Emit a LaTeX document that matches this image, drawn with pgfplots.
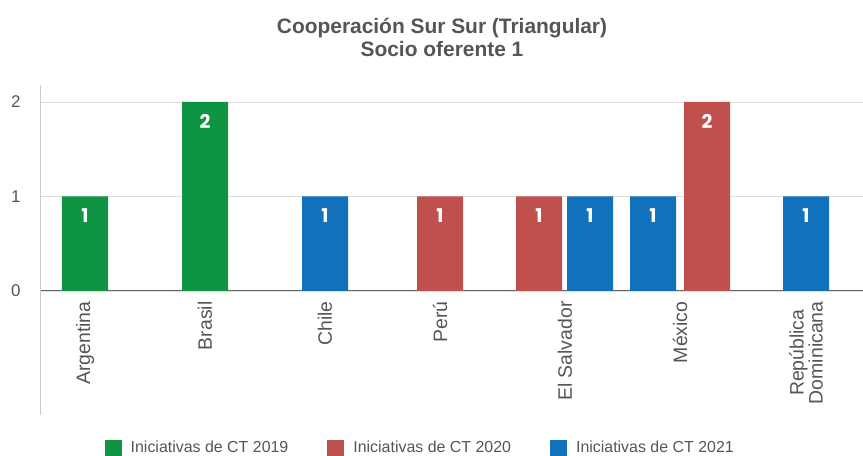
\documentclass[border=0pt]{standalone}
\usepackage{pgfplots}
\pgfplotsset{compat=1.18}
\usepackage{fontspec}
\setmainfont{Liberation Sans}
\newfontfamily\poppins{Poppins}
\definecolor{cgreen}{HTML}{0F9444}
\definecolor{cred}{HTML}{C0504D}
\definecolor{cblue}{HTML}{1172BB}
\definecolor{txt}{HTML}{555555}
\begin{document}
\begin{tikzpicture}
\begin{axis}[
 x=1bp, y=94.5bp,
 xmin=40, xmax=863, ymin=-1.31, ymax=2.18,
 axis x line*=middle, axis y line*=left,
 x axis line style={draw=black!60, line width=1bp},
 y axis line style={draw=black!20, line width=0.8bp},
 ytick={0,1,2}, ymajorgrids, grid style={draw=black!13, line width=0.8bp},
 xtick={85,205,325,440,565,680,806},
 xticklabels={Argentina,Brasil,Chile,Perú,El Salvador,México,{República\\Dominicana}},
 major tick length=0pt,
 xticklabel style={rotate=90, anchor=east, align=center, font=\fontsize{19.5}{19}\selectfont, text=txt, xshift=-7bp},
 yticklabel style={font=\fontsize{17}{17}\selectfont, text=txt, xshift=-16bp},
 /pgf/number format/assume math mode=true,
 ybar, bar shift=0pt, bar width=46,
 legend image code/.code={\fill[#1] (0bp,-8bp) rectangle (17bp,8bp); \path (24bp,0bp);},
 nodes near coords,
 nodes near coords style={text=white, font=\poppins\bfseries\fontsize{19}{19}\selectfont, anchor=center, yshift=-19bp},
 clip=false,
 legend columns=3,
 legend style={at={(0.462,-0.1)}, anchor=center, draw=none, fill=none,
   font=\fontsize{16}{16}\selectfont, text=txt,
   /tikz/every even column/.append style={column sep=37bp}},
]
\addplot[fill=cgreen, draw=none] coordinates {(85,1) (205,2)};
\addlegendentry{Iniciativas de CT 2019}
\addplot[fill=cred, draw=none] coordinates {(440,1) (539,1) (707,2)};
\addlegendentry{Iniciativas de CT 2020}
\addplot[fill=cblue, draw=none] coordinates {(325,1) (590,1) (653,1) (806,1)};
\addlegendentry{Iniciativas de CT 2021}
\node[align=center, font=\bfseries\fontsize{21}{23}\selectfont, text=txt] at (axis cs:442,2.683) {Cooperación Sur Sur (Triangular)\\Socio oferente 1};
\coordinate (BL) at (axis cs:0,-1.746);
\coordinate (TR) at (axis cs:863,3.079);
\end{axis}
\pgfresetboundingbox
\path[use as bounding box] (BL) rectangle (TR);
\end{tikzpicture}
\end{document}
